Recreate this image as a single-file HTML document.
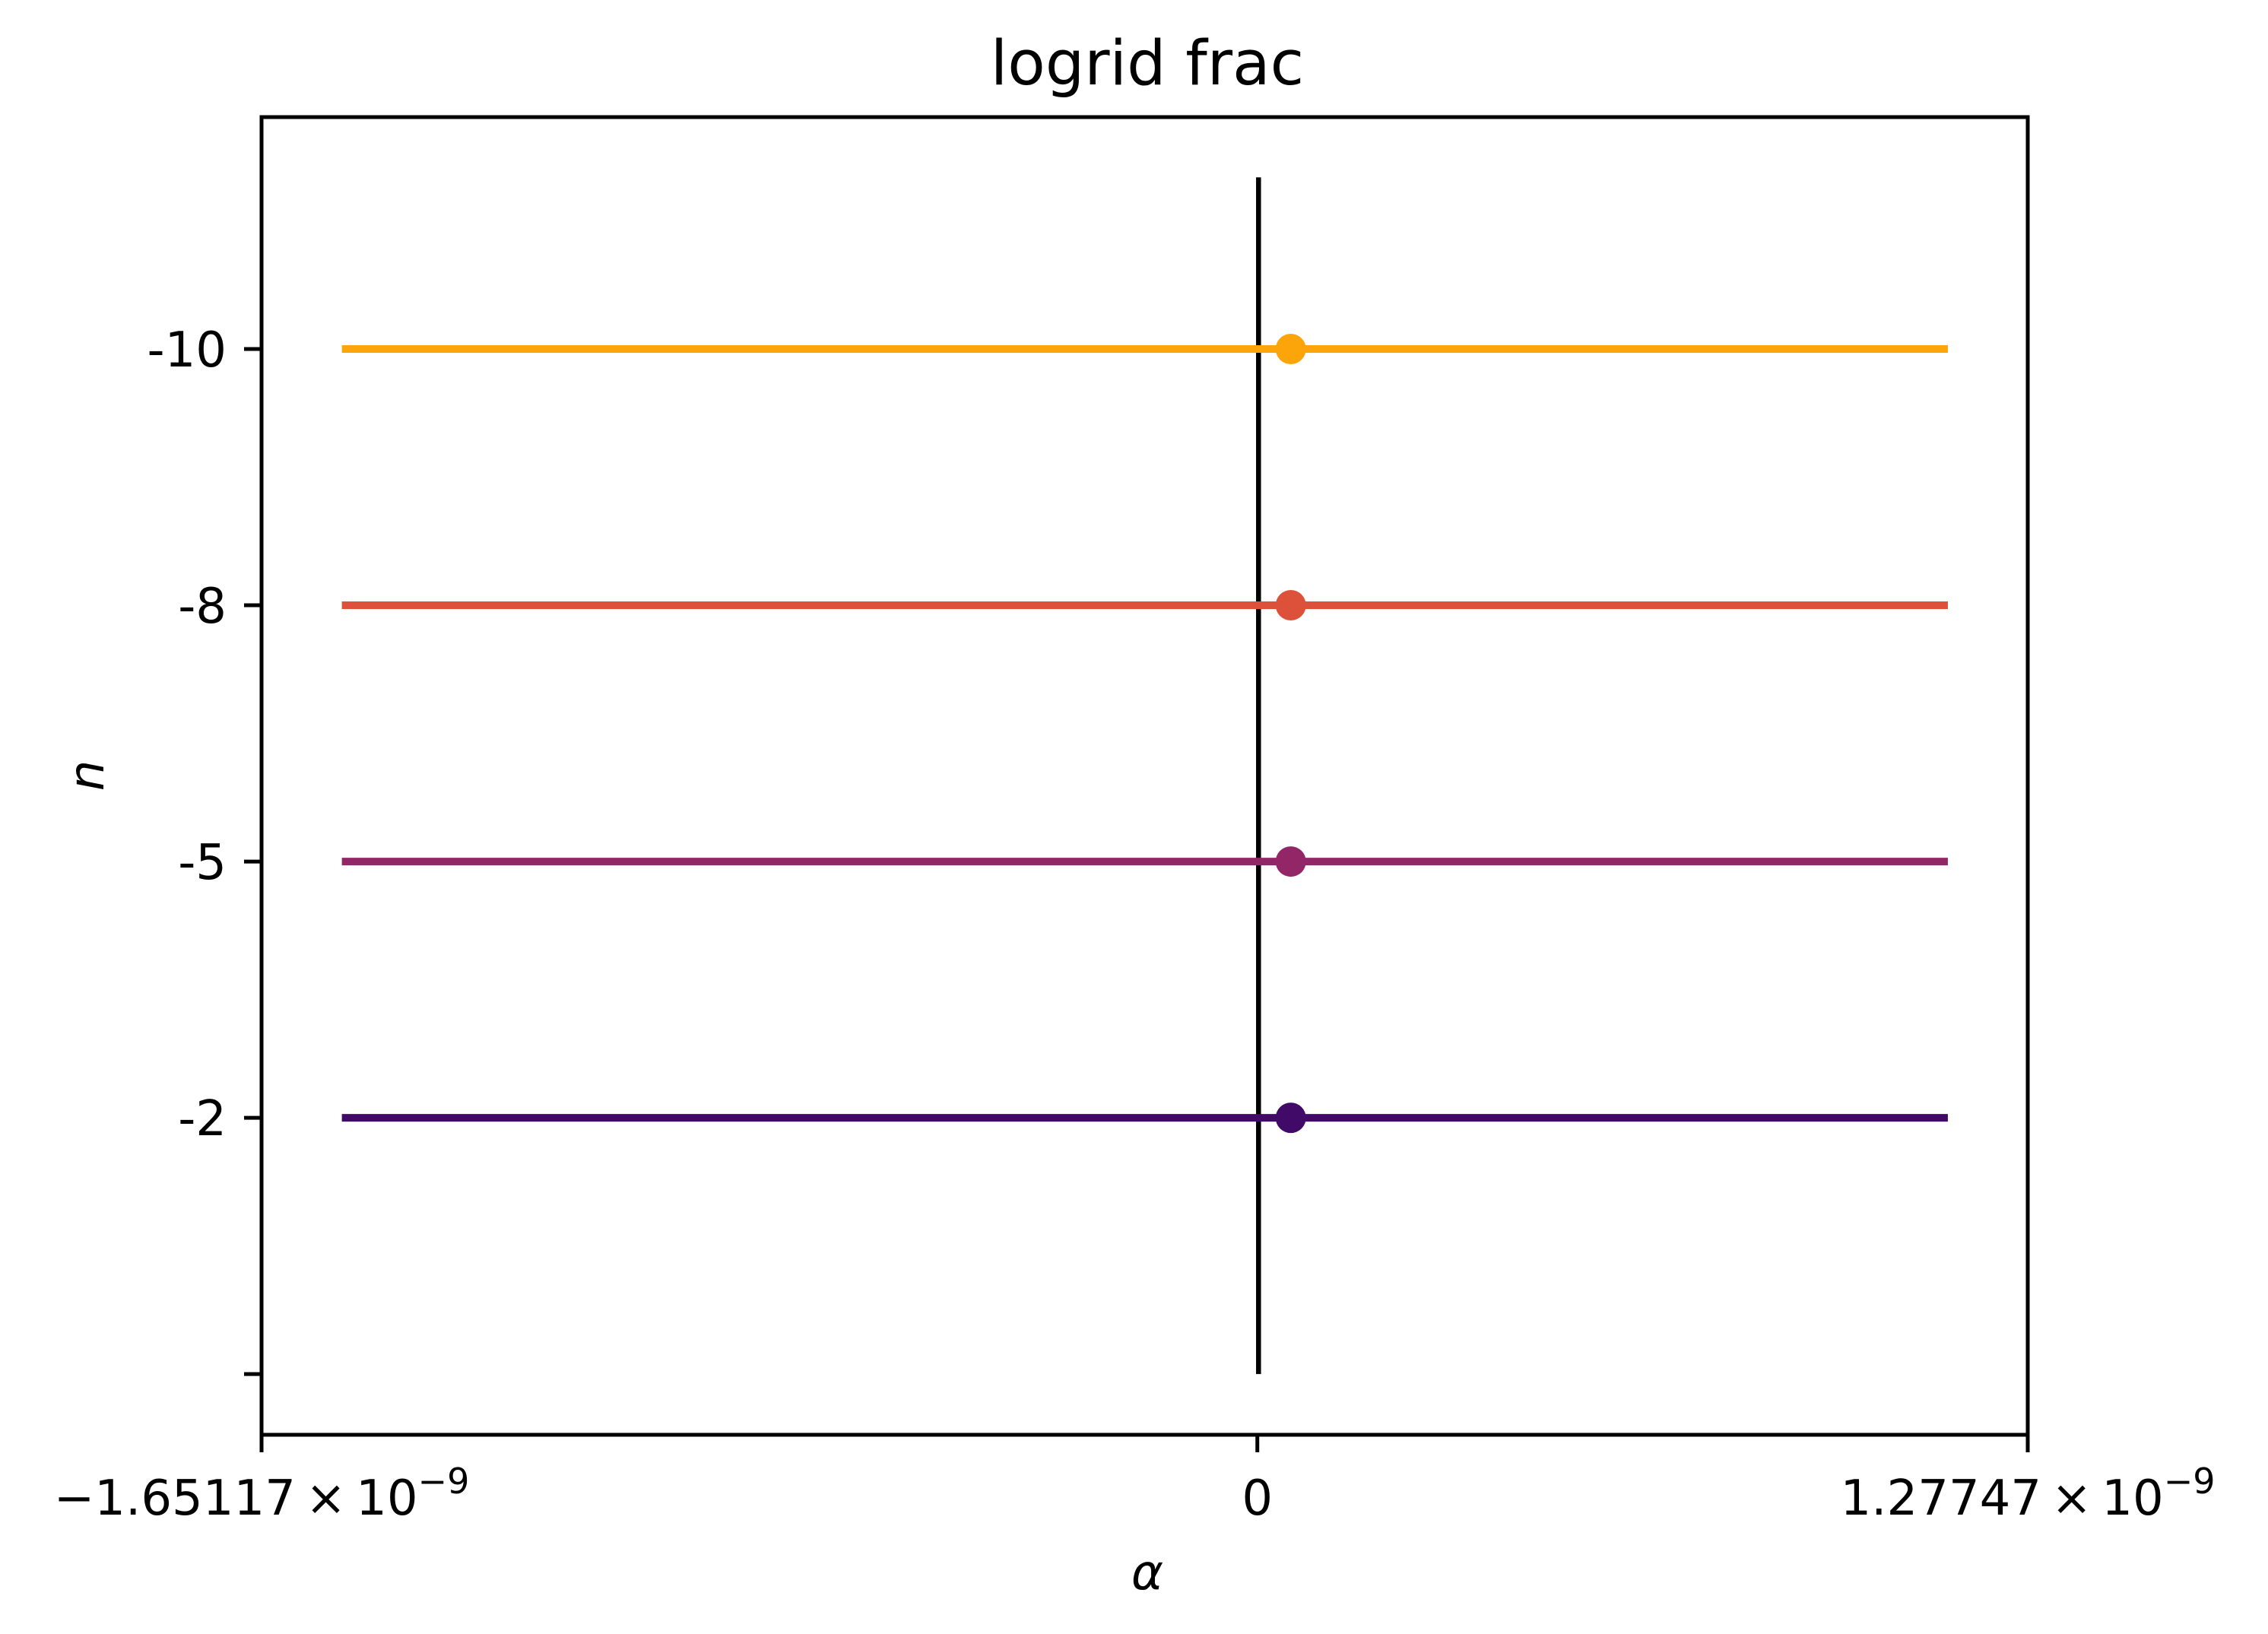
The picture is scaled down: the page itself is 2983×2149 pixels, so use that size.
<!DOCTYPE html>
<html><head><meta charset="utf-8"><style>
html,body{margin:0;padding:0;background:#fff}
svg{display:block}
text{font-family:"DejaVu Sans","Liberation Sans",sans-serif;fill:#000}
</style></head><body>
<svg id="chart" width="2983" height="2149" viewBox="0 0 2983 2149" xmlns="http://www.w3.org/2000/svg">
<rect x="0" y="0" width="2983" height="2149" fill="#fff"/>
<text x="1509" y="111" font-size="81" text-anchor="middle">logrid frac</text>
<g id="marks"></g>
<rect x="344" y="154" width="2323" height="1733" fill="none" stroke="#000" stroke-width="5"/>
<g id="axes"></g>
<text x="1509" y="2090" font-size="64" font-style="italic" text-anchor="middle">α</text>
<text x="0" y="0" font-size="64" font-style="italic" text-anchor="middle" transform="translate(136,1020) rotate(-90)">n</text>
</svg>
<script>
const categories = ['-2', '-5', '-8', '-10'];
const catIndex = [1, 2, 3, 4];
const yTickLabels = ['', '-2', '-5', '-8', '-10'];
const colors = ['#420a68', '#932667', '#dd513a', '#fca50a'];
const lineStart = [-1.518e-9, -1.518e-9, -1.518e-9, -1.518e-9];
const lineEnd = [1.145e-9, 1.145e-9, 1.145e-9, 1.145e-9];
const pointX = [0.0555e-9, 0.0555e-9, 0.0555e-9, 0.0555e-9];
const xTicks = [-1.65117e-9, 0, 1.27747e-9];
const xTickMant = ['−1.65117\u2009×\u200910', '0', '1.27747\u2009×\u200910'];
const xTickExp = ['−9', '', '−9'];
const vlineX = 0.002e-9;
const vlineY = [0, 4.67];

const X0 = 344, X1 = 2667, Y0 = 1887, Y1 = 154;
const xMin = -1.65117e-9, xMax = 1.27747e-9;
const yMin = -0.237, yMax = 4.905;
const sx = v => X0 + (v - xMin) / (xMax - xMin) * (X1 - X0);
const sy = v => Y0 - (v - yMin) / (yMax - yMin) * (Y0 - Y1);
const NS = 'http://www.w3.org/2000/svg';
const marks = document.getElementById('marks');
const axes = document.getElementById('axes');
function mk(tag, attrs, parent) {
  const el = document.createElementNS(NS, tag);
  for (const k in attrs) el.setAttribute(k, attrs[k]);
  parent.appendChild(el);
  return el;
}
let vl = mk('line', {x1: sx(vlineX), x2: sx(vlineX), y1: sy(vlineY[0]), y2: sy(vlineY[1]), stroke: '#000', 'stroke-width': 6.5}, marks);


categories.forEach((c, i) => {
  const y = sy(catIndex[i]);
  const l = mk('line', {x1: sx(lineStart[i]), x2: sx(lineEnd[i]), y1: y, y2: y, stroke: colors[i], 'stroke-width': 10}, marks);
  
  
  const p = mk('circle', {cx: sx(pointX[i]), cy: y, r: 20, fill: colors[i]}, marks);
  
  
});
yTickLabels.forEach((lab, i) => {
  const y = sy(i);
  const t = mk('line', {x1: X0 - 23, x2: X0, y1: y, y2: y, stroke: '#000', 'stroke-width': 5}, axes);
  
  
  if (lab) {
    const tx = mk('text', {x: X0 - 46, y: y + 23, 'font-size': 64, 'text-anchor': 'end'}, axes);
    tx.textContent = lab;
    
    
  }
});
xTicks.forEach((v, i) => {
  const x = sx(v);
  const t = mk('line', {x1: x, x2: x, y1: Y0, y2: Y0 + 23, stroke: '#000', 'stroke-width': 5}, axes);
  
  
  const tx = mk('text', {x: x, y: 1992, 'font-size': 64, 'text-anchor': 'middle'}, axes);
  
  
  tx.appendChild(document.createTextNode(xTickMant[i]));
  if (xTickExp[i]) {
    const s = document.createElementNS(NS, 'tspan');
    s.setAttribute('dy', '-28');
    s.setAttribute('font-size', '46');
    s.textContent = xTickExp[i];
    tx.appendChild(s);
  }
});
</script>
</body></html>
